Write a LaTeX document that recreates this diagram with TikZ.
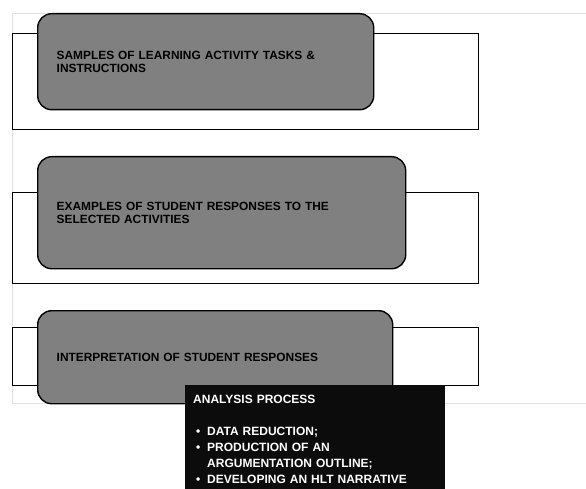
\documentclass[tikz,border=0pt]{standalone}
\usepackage{fontspec}
\setmainfont{Liberation Sans}
\definecolor{tabgray}{HTML}{808080}
\definecolor{framegray}{HTML}{E2E2E2}
\definecolor{boxblack}{HTML}{0C0C0C}
\begin{document}
\begin{tikzpicture}[x=1pt,y=-1pt,
	band/.style={draw=black,line width=1pt,fill=white,anchor=north west,minimum width=466pt,inner sep=0pt},
	tab/.style={draw=black,line width=1.4pt,fill=tabgray,rounded corners=14pt,anchor=north west,inner xsep=19pt,align=left,font=\bfseries\fontsize{11.9}{13}\selectfont},
	proc/.style={fill=boxblack,anchor=north west,minimum width=260pt,minimum height=110pt,inner sep=0pt}]
	%\draw[step=10,gray!15] (0,0) grid (586,489); \draw[step=50,gray!40] (0,0) grid (586,489); %Hilfsgitter
	\useasboundingbox (0,0) rectangle (586,489);
	\draw[framegray,line width=0.8pt] (586,13) -- (12,13) -- (12,403) -- (586,403);
	
	\node[band,minimum height=96pt] (B1) at (12,33) {}; \node[band,minimum height=91pt] (B2) at (12,192) {}; \node[band,minimum height=58pt] (B3) at (12,327) {};
	
	\node[tab,text width=298pt,minimum height=96pt] (T1) at (37,13) {SAMPLES OF LEARNING ACTIVITY TASKS \&\\INSTRUCTIONS};
	\node[tab,text width=330pt,minimum height=112pt] (T2) at (37,156) {EXAMPLES OF STUDENT RESPONSES TO THE\\SELECTED ACTIVITIES};
	\node[tab,text width=317pt,minimum height=93pt] (T3) at (37,310) {INTERPRETATION OF STUDENT RESPONSES};
	
	\node[proc] (P) at (185,385) {};
	\node[anchor=base west,text width=250pt,align=left,inner sep=0pt,text=white,font=\bfseries\fontsize{12}{16}\selectfont] (Ptext) at (193,403)
		{ANALYSIS PROCESS\\[16pt]
		\makebox[14pt][l]{\hspace{3pt}\textbullet}DATA REDUCTION;\\
		\makebox[14pt][l]{\hspace{3pt}\textbullet}PRODUCTION OF AN\\
		\hspace*{14pt}ARGUMENTATION OUTLINE;\\
		\makebox[14pt][l]{\hspace{3pt}\textbullet}DEVELOPING AN HLT NARRATIVE};
\end{tikzpicture}
\end{document}
